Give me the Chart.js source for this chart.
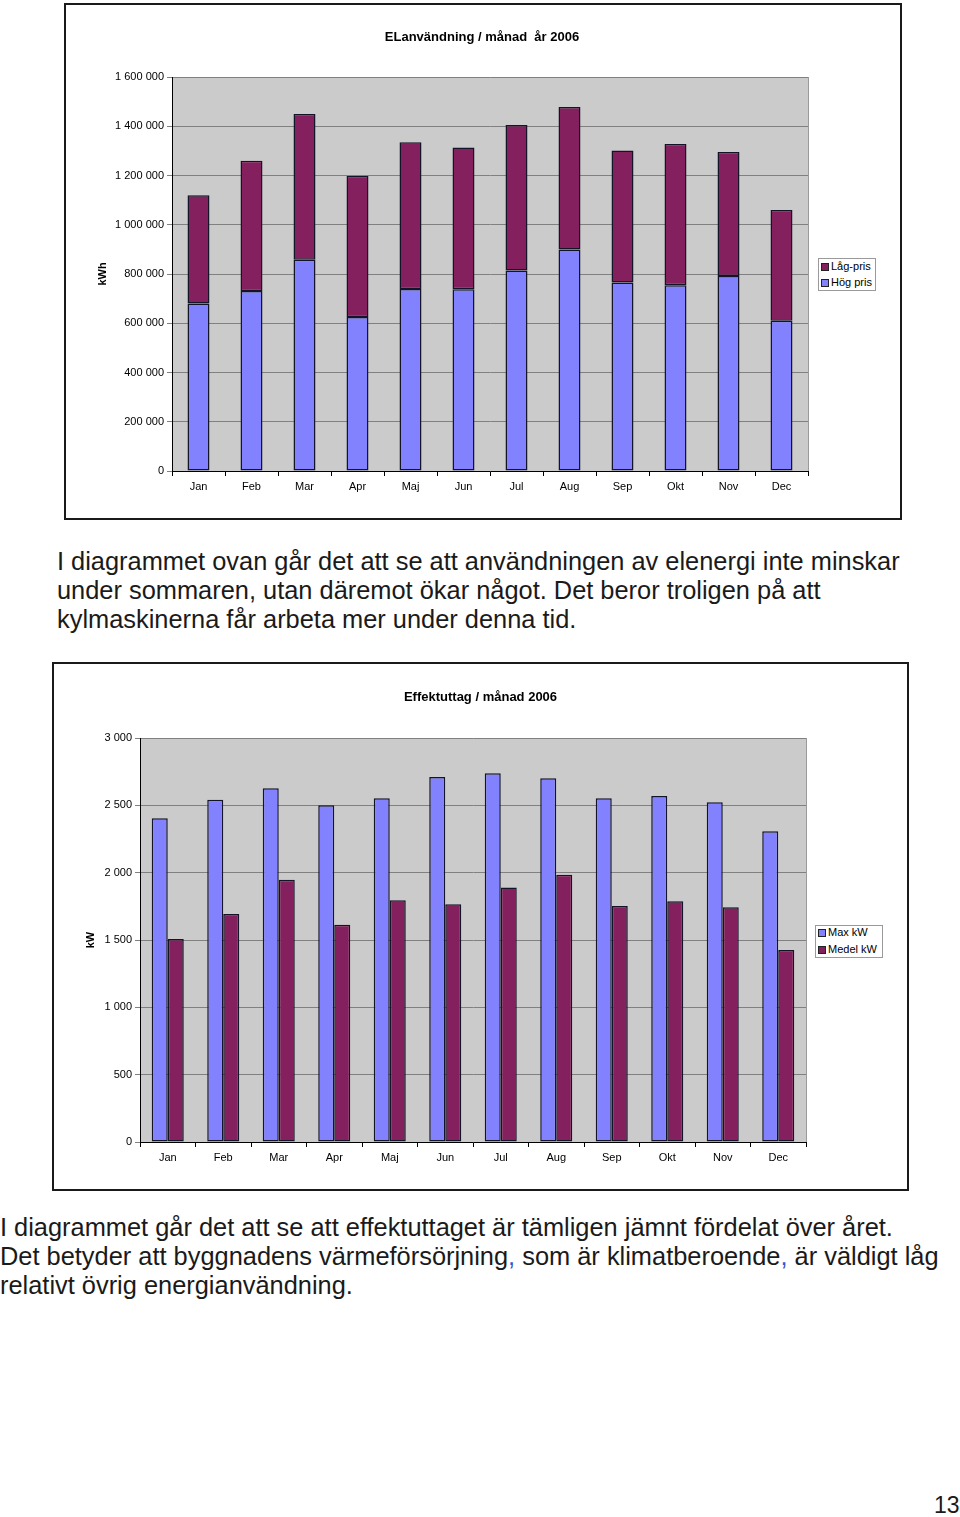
<!DOCTYPE html>
<html>
<head>
<meta charset="utf-8">
<script src="https://cdn.jsdelivr.net/npm/chart.js@4"></script>
<style>
body{margin:0;background:#fff;width:960px;height:1517px;position:relative;overflow:hidden;font-family:'Liberation Sans',Arial,sans-serif;}
.frame{position:absolute;border:2px solid #1a1a1a;box-sizing:border-box;background:#fff;}
canvas{position:absolute;}
.lg{position:absolute;border:1px solid #9a9a9a;background:#fff;box-sizing:border-box;font-size:11px;color:#000;}
.lg div{position:absolute;white-space:nowrap;line-height:13px;}
.lg i{position:absolute;width:6px;height:6px;border:1px solid #222;}
.txt{position:absolute;font-size:25.4px;line-height:29px;color:#1a1a1a;white-space:nowrap;}
.blue{color:#3355cc;}
</style>
</head>
<body>
<div class="frame" style="left:64px;top:3px;width:838px;height:517px;"></div>
<canvas id="elChart" width="832" height="512" style="left:66px;top:5px;"></canvas>
<div class="lg" style="left:818px;top:258px;width:58px;height:33px;">
  <i style="left:2px;top:4px;background:#84205e;"></i><div style="left:12px;top:1px;">Låg-pris</div>
  <i style="left:2px;top:20px;background:#8282ff;"></i><div style="left:12px;top:17px;">Hög pris</div>
</div>

<div class="txt" style="left:57px;top:547px;">I diagrammet ovan går det att se att användningen av elenergi inte minskar</div>
<div class="txt" style="left:57px;top:576px;">under sommaren, utan däremot ökar något. Det beror troligen på att</div>
<div class="txt" style="left:57px;top:605px;">kylmaskinerna får arbeta mer under denna tid.</div>

<div class="frame" style="left:52px;top:662px;width:857px;height:529px;"></div>
<canvas id="effChart" width="851" height="524" style="left:55px;top:665px;"></canvas>
<div class="lg" style="left:815px;top:925px;width:68px;height:33px;">
  <i style="left:2px;top:3px;background:#8282ff;"></i><div style="left:12px;top:0px;">Max kW</div>
  <i style="left:2px;top:20px;background:#84205e;"></i><div style="left:12px;top:17px;">Medel kW</div>
</div>

<div class="txt" style="left:0px;top:1213px;">I diagrammet går det att se att effektuttaget är tämligen jämnt fördelat över året.</div>
<div class="txt" style="left:0px;top:1242px;">Det betyder att byggnadens värmeförsörjning<span class="blue">,</span> som är klimatberoende<span class="blue">,</span> är väldigt låg</div>
<div class="txt" style="left:0px;top:1271px;">relativt övrig energianvändning.</div>

<div class="txt" style="left:934px;top:1491px;font-size:23px;">13</div>

<script>
// data
const MANADER=['Jan','Feb','Mar','Apr','Maj','Jun','Jul','Aug','Sep','Okt','Nov','Dec'];
const HOG_PRIS=[680000,731000,858000,625000,739000,738000,814000,899000,765000,754000,792000,610000];
const LAG_PRIS=[440000,529000,592000,573000,596000,576000,591000,579000,537000,574000,503000,450000];
const MAX_KW=[2404,2542,2626,2500,2552,2710,2738,2701,2552,2569,2522,2307];
const MEDEL_KW=[1507,1693,1948,1614,1795,1765,1889,1985,1752,1787,1743,1426];

const BLA='#8282ff',LILA='#84205e',KANT='#141428';
const FONT={family:"'Liberation Sans', Arial, sans-serif",size:11};
const fmt=v=>String(v).replace(/\B(?=(\d{3})+(?!\d))/g,' ');

// gra bakgrund + hoger kant i ritytan
const plotBg={id:'plotBg',
  beforeDraw(c){const a=c.chartArea,x=c.ctx;x.save();x.fillStyle='#cbcbcb';x.fillRect(a.left,a.top,a.right-a.left,a.bottom-a.top);x.restore();},
  afterDatasetsDraw(c){const a=c.chartArea,x=c.ctx;x.save();x.strokeStyle='#9a9a9a';x.lineWidth=1;x.beginPath();x.moveTo(a.right+0.5,a.top);x.lineTo(a.right+0.5,a.bottom);x.stroke();x.restore();}
};

function opts(title,ytitle,ymax,ystep,ax,padTop,titleGap,titleX,right,bottom){
  return {responsive:false,animation:false,
    layout:{padding:{top:padTop,left:0,right:0,bottom:0}},
    plugins:{legend:{display:false},tooltip:{enabled:false},
      title:{display:true,text:title,color:'#000',font:{family:FONT.family,size:13,weight:'bold'},padding:{top:0,bottom:titleGap}}},
    scales:{
      x:{stacked:ax.stacked,offset:true,
        grid:{drawOnChartArea:false,drawTicks:true,tickLength:5,color:'#000',offset:true},
        border:{color:'#000'},
        ticks:{color:'#000',font:FONT,padding:4,maxRotation:0},
        afterFit:s=>{s.height=bottom;}},
      y:{stacked:ax.stacked,min:0,max:ymax,
        grid:{color:'#808080',tickLength:5},
        border:{color:'#000'},
        ticks:{stepSize:ystep,color:'#000',font:FONT,padding:3,callback:v=>fmt(v)},
        title:{display:true,text:ytitle,color:'#000',font:{family:FONT.family,size:11,weight:'bold'},padding:{top:titleX,bottom:0}},
        afterFit:s=>{s.width=ax.w;}},
      // tom plats till hoger for forklaringen
      hoger:{position:'right',display:true,grid:{display:false},border:{display:false},ticks:{display:false},
        afterFit:s=>{s.width=right;}}
    }};
}

new Chart(document.getElementById('elChart'),{type:'bar',
  data:{labels:MANADER,datasets:[
    {label:'Hög pris',data:HOG_PRIS,backgroundColor:BLA,borderColor:KANT,borderWidth:1.5,borderSkipped:false,barPercentage:0.415,categoryPercentage:1},
    {label:'Låg-pris',data:LAG_PRIS,backgroundColor:LILA,borderColor:KANT,borderWidth:1.5,borderSkipped:false,barPercentage:0.415,categoryPercentage:1}]},
  options:opts('ELanvändning / månad  år 2006','kWh',1600000,200000,{stacked:true,w:106},25,31.4,30.4,90,46),
  plugins:[plotBg]});

new Chart(document.getElementById('effChart'),{type:'bar',
  data:{labels:MANADER,datasets:[
    {label:'Max kW',data:MAX_KW,backgroundColor:BLA,borderColor:KANT,borderWidth:1.5,borderSkipped:false,barPercentage:1,categoryPercentage:0.577},
    {label:'Medel kW',data:MEDEL_KW,backgroundColor:LILA,borderColor:KANT,borderWidth:1.5,borderSkipped:false,barPercentage:1,categoryPercentage:0.577}]},
  options:opts('Effektuttag / månad 2006','kW',3000,500,{stacked:false,w:85},25,32.4,29.4,100,47),
  plugins:[plotBg]});
</script>
</body>
</html>
